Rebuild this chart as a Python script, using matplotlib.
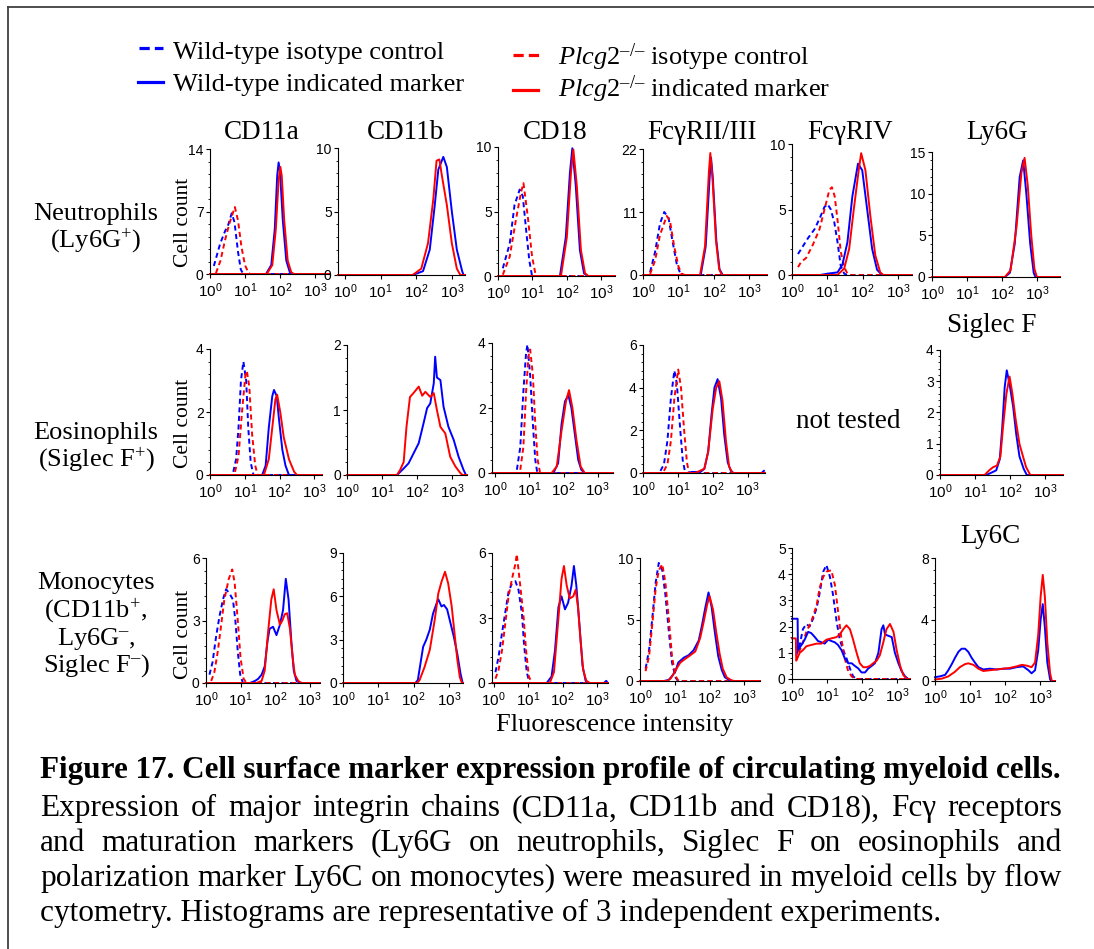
import matplotlib
matplotlib.use('Agg')
import matplotlib.pyplot as plt
import numpy as np
from matplotlib.lines import Line2D
from matplotlib.ticker import AutoMinorLocator, LogLocator, NullFormatter

W, H = 1094, 949
BLUE, RED = '#0000ff', '#ff0000'

# ---- data: (log10 fluorescence, cell count) ----
# neutrophils (Ly6G+)
neu_cd11a_wt_iso = [(0.11, 0.9), (0.29, 3.4), (0.43, 4.8), (0.52, 5.5), (0.62, 6.8), (0.7, 5.8), (0.8, 2.5), (0.88, 0.5), (0.95, 0)]
neu_cd11a_ko_iso = [(0.17, 0.1), (0.3, 1.5), (0.43, 3.8), (0.55, 5.6), (0.71, 7.5), (0.8, 6.0), (0.9, 3.0), (1.0, 1.0), (1.1, 0.1), (1.15, 0)]
neu_cd11a_wt = [(1.6, 0), (1.75, 1.0), (1.85, 5.0), (1.92, 11.0), (1.96, 12.5), (2.0, 11.5), (2.08, 6.0), (2.18, 1.5), (2.28, 0.2), (2.35, 0)]
neu_cd11a_ko = [(1.62, 0), (1.78, 1.0), (1.88, 5.0), (1.96, 10.5), (2.01, 12.0), (2.05, 11.0), (2.12, 6.0), (2.22, 1.5), (2.32, 0.2), (2.4, 0)]

neu_cd11b_wt = [(1.9, 0), (2.19, 0.3), (2.38, 2.0), (2.52, 5.5), (2.62, 8.3), (2.69, 8.8), (2.76, 9.3), (2.86, 8.5), (3.0, 5.0), (3.14, 2.0), (3.29, 0.3), (3.33, 0)]
neu_cd11b_ko = [(1.9, 0), (2.14, 0.5), (2.33, 2.5), (2.48, 6.0), (2.57, 9.0), (2.65, 9.1), (2.71, 8.0), (2.86, 5.5), (3.0, 2.5), (3.14, 0.5), (3.24, 0)]

neu_cd18_wt_iso = [(0.14, 0.6), (0.34, 2.5), (0.48, 5.5), (0.63, 6.7), (0.72, 6.2), (0.82, 3.5), (0.91, 1.2), (0.99, 0)]
neu_cd18_ko_iso = [(0.14, 0.1), (0.34, 1.5), (0.53, 4.5), (0.67, 6.5), (0.74, 7.2), (0.87, 4.5), (0.99, 1.5), (1.1, 0)]
neu_cd18_wt = [(1.8, 0), (1.97, 3.0), (2.09, 8.0), (2.16, 9.9), (2.26, 7.0), (2.38, 2.0), (2.5, 0.2), (2.6, 0)]
neu_cd18_ko = [(1.83, 0), (2.0, 3.0), (2.12, 8.0), (2.19, 9.8), (2.29, 7.0), (2.41, 2.0), (2.53, 0.2), (2.63, 0)]

neu_fc23_wt_iso = [(0.2, 0.5), (0.34, 4.0), (0.48, 9.0), (0.6, 11.0), (0.72, 10.0), (0.83, 6.0), (0.95, 2.0), (1.05, 0.3), (1.14, 0)]
neu_fc23_ko_iso = [(0.2, 0.2), (0.34, 2.5), (0.48, 7.0), (0.67, 10.3), (0.76, 9.5), (0.88, 5.0), (1.0, 1.5), (1.09, 0.2), (1.19, 0)]
neu_fc23_wt = [(1.63, 0), (1.77, 5.0), (1.88, 17.0), (1.92, 20.5), (1.97, 17.0), (2.07, 6.0), (2.16, 1.0), (2.25, 0)]
neu_fc23_ko = [(1.61, 0), (1.75, 5.0), (1.86, 18.0), (1.9, 21.3), (1.96, 17.0), (2.06, 6.0), (2.15, 1.0), (2.23, 0)]

neu_fc4_wt_iso = [(0.17, 1.6), (0.31, 2.2), (0.45, 2.8), (0.64, 3.5), (0.78, 4.3), (0.92, 5.2), (1.01, 5.4), (1.1, 5.0), (1.2, 4.0),
                  (1.29, 2.5), (1.38, 0.7), (1.48, 0.1), (1.57, 0)]
neu_fc4_ko_iso = [(0.17, 0.6), (0.26, 1.0), (0.4, 1.3), (0.59, 2.3), (0.78, 3.5), (0.92, 5.0), (1.06, 6.5), (1.13, 6.7), (1.21, 6.0),
                  (1.29, 4.2), (1.38, 1.8), (1.48, 0.6), (1.57, 0.1), (1.66, 0)]
neu_fc4_wt = [(0.8, 0), (1.0, 0.1), (1.29, 0.2), (1.43, 0.8), (1.57, 2.5), (1.71, 6.0), (1.87, 8.5), (1.99, 8.0), (2.13, 5.0),
              (2.27, 2.0), (2.41, 0.4), (2.55, 0)]
neu_fc4_ko = [(1.29, 0), (1.48, 0.5), (1.62, 2.0), (1.75, 5.0), (1.89, 8.0), (1.96, 9.3), (2.08, 8.0), (2.22, 4.5), (2.36, 1.5),
              (2.5, 0.2), (2.59, 0)]

neu_ly6g_wt = [(2.08, 0), (2.22, 0.5), (2.36, 4.0), (2.5, 12.0), (2.6, 14.0), (2.69, 10.0), (2.8, 4.0), (2.9, 0.5), (2.95, 0)]
neu_ly6g_ko = [(2.08, 0), (2.24, 0.8), (2.41, 6.0), (2.55, 12.5), (2.64, 14.3), (2.73, 11.0), (2.83, 5.0), (2.92, 1.0), (2.99, 0)]

# eosinophils (Siglec F+)
eos_cd11a_wt_iso = [(0.67, 0.1), (0.75, 0.5), (0.82, 1.5), (0.89, 3.0), (0.96, 3.6), (1.04, 3.0), (1.1, 1.5), (1.17, 0.4), (1.25, 0)]
eos_cd11a_ko_iso = [(0.72, 0.1), (0.82, 0.6), (0.92, 2.0), (1.02, 3.2), (1.06, 3.3), (1.13, 2.8), (1.21, 1.3), (1.3, 0.3), (1.37, 0)]
eos_cd11a_wt = [(1.5, 0), (1.6, 0.3), (1.69, 1.5), (1.79, 2.5), (1.84, 2.7), (1.92, 2.5), (1.98, 1.8), (2.08, 0.8), (2.17, 0.3), (2.27, 0)]
eos_cd11a_ko = [(1.55, 0), (1.69, 0.5), (1.79, 1.5), (1.88, 2.4), (1.93, 2.55), (2.02, 2.0), (2.12, 1.2), (2.27, 0.5), (2.42, 0.1), (2.5, 0)]

eos_cd11b_wt = [(1.43, 0), (1.62, 0.1), (1.76, 0.18), (1.9, 0.33), (2.05, 0.49), (2.19, 0.8), (2.29, 1.03), (2.38, 1.1), (2.48, 1.41),
                (2.52, 1.82), (2.57, 1.5), (2.67, 1.46), (2.76, 1.05), (2.9, 0.74), (3.05, 0.54), (3.19, 0.28), (3.33, 0.08), (3.4, 0)]
eos_cd11b_ko = [(1.43, 0), (1.52, 0.08), (1.62, 0.2), (1.7, 0.74), (1.8, 1.2), (1.9, 1.26), (2.05, 1.36), (2.15, 1.22), (2.24, 1.28),
                (2.38, 1.2), (2.48, 1.26), (2.57, 1.0), (2.67, 0.74), (2.81, 0.64), (2.95, 0.28), (3.1, 0.13), (3.24, 0.03), (3.3, 0)]

eos_cd18_wt_iso = [(0.63, 0.1), (0.73, 0.8), (0.82, 2.5), (0.9, 3.7), (0.94, 3.95), (1.02, 3.0), (1.1, 1.5), (1.17, 0.4), (1.23, 0)]
eos_cd18_ko_iso = [(0.73, 0.1), (0.82, 0.8), (0.9, 2.5), (0.97, 3.6), (1.02, 3.8), (1.1, 3.0), (1.17, 1.5), (1.24, 0.4), (1.31, 0)]
eos_cd18_wt = [(1.7, 0), (1.84, 0.3), (1.94, 1.5), (2.04, 2.2), (2.14, 2.4), (2.23, 2.0), (2.33, 1.2), (2.43, 0.4), (2.52, 0.1), (2.62, 0)]
eos_cd18_ko = [(1.65, 0), (1.8, 0.2), (1.94, 1.3), (2.07, 2.2), (2.16, 2.55), (2.26, 2.0), (2.38, 1.0), (2.5, 0.2), (2.62, 0)]

eos_fc23_wt_iso = [(0.5, 0.1), (0.6, 0.4), (0.7, 1.5), (0.8, 3.5), (0.9, 4.8), (0.97, 4.2), (1.07, 2.0), (1.14, 0.6), (1.2, 0.1), (1.26, 0)]
eos_fc23_ko_iso = [(0.6, 0.1), (0.7, 0.4), (0.8, 1.5), (0.9, 3.5), (1.01, 4.85), (1.09, 4.0), (1.18, 2.0), (1.26, 0.5), (1.32, 0)]
eos_fc23_wt = [(1.28, 0), (1.4, 0.05), (1.65, 0.05), (1.76, 0.2), (1.87, 1.0), (1.97, 2.8), (2.05, 4.0), (2.14, 4.4), (2.24, 3.5),
               (2.33, 1.8), (2.43, 0.5), (2.52, 0.1), (2.6, 0), (3.4, 0), (3.47, 0.1)]
eos_fc23_ko = [(1.5, 0), (1.76, 0.2), (1.87, 1.0), (2.0, 3.0), (2.1, 4.0), (2.19, 4.3), (2.28, 3.4), (2.38, 1.5), (2.47, 0.3), (2.57, 0)]

eos_siglecf_wt = [(1.32, 0), (1.51, 0.1), (1.6, 0.15), (1.7, 0.5), (1.77, 1.5), (1.84, 2.8), (1.9, 3.35), (1.98, 2.9), (2.08, 2.2),
                  (2.17, 1.3), (2.26, 0.6), (2.38, 0.2), (2.47, 0)]
eos_siglecf_ko = [(1.27, 0), (1.4, 0.15), (1.51, 0.25), (1.62, 0.3), (1.72, 0.6), (1.79, 1.5), (1.89, 2.6), (1.98, 3.15), (2.06, 2.6),
                  (2.15, 1.8), (2.26, 1.0), (2.36, 0.6), (2.45, 0.25), (2.57, 0)]

# monocytes (CD11b+, Ly6G-, Siglec F-)
mono_cd11a_wt_iso = [(0.1, 0.4), (0.19, 1.0), (0.29, 2.2), (0.39, 3.2), (0.49, 4.0), (0.58, 4.5), (0.68, 4.3), (0.78, 4.0), (0.85, 3.0),
                     (0.92, 1.5), (0.99, 0.4), (1.07, 0)]
mono_cd11a_ko_iso = [(0.15, 0.1), (0.24, 0.5), (0.34, 1.5), (0.44, 2.8), (0.53, 4.0), (0.66, 5.0), (0.76, 5.45), (0.83, 4.8), (0.92, 3.0),
                     (1.0, 1.2), (1.09, 0.2), (1.17, 0)]
mono_cd11a_wt = [(1.27, 0), (1.42, 0.1), (1.51, 0.2), (1.61, 0.4), (1.7, 0.8), (1.78, 2.0), (1.84, 2.6), (1.94, 2.7), (2.04, 2.3),
                 (2.14, 2.8), (2.23, 3.5), (2.31, 5.0), (2.39, 4.0), (2.47, 2.0), (2.54, 0.6), (2.62, 0.1), (2.72, 0)]
mono_cd11a_ko = [(1.46, 0), (1.61, 0.1), (1.7, 0.6), (1.8, 2.5), (1.89, 4.0), (1.96, 4.5), (2.04, 3.5), (2.14, 2.8), (2.21, 3.0),
                 (2.28, 3.3), (2.35, 3.35), (2.43, 2.6), (2.51, 1.2), (2.57, 0.4), (2.67, 0.1), (2.77, 0)]

mono_cd11b_wt = [(2.05, 0), (2.12, 0.2), (2.27, 2.5), (2.36, 3.0), (2.46, 3.7), (2.55, 4.8), (2.65, 5.5), (2.7, 5.8), (2.79, 5.3),
                 (2.86, 5.4), (2.95, 5.1), (3.05, 4.1), (3.14, 3.2), (3.24, 2.0), (3.33, 0.65), (3.39, 0)]
mono_cd11b_ko = [(2.1, 0), (2.17, 0.2), (2.31, 1.1), (2.46, 2.3), (2.6, 4.4), (2.7, 6.2), (2.79, 7.0), (2.89, 7.7), (2.98, 6.9),
                 (3.08, 5.3), (3.17, 3.2), (3.24, 1.6), (3.31, 0.4), (3.37, 0)]

mono_cd18_wt_iso = [(0.05, 0.5), (0.14, 1.2), (0.24, 2.3), (0.34, 3.3), (0.43, 4.2), (0.53, 4.6), (0.63, 4.7), (0.72, 4.3), (0.82, 3.2),
                    (0.88, 1.8), (0.96, 0.5), (1.04, 0)]
mono_cd18_ko_iso = [(0.05, 0.2), (0.14, 0.6), (0.24, 1.5), (0.34, 2.8), (0.43, 4.0), (0.53, 4.8), (0.63, 5.5), (0.67, 5.95), (0.77, 4.5),
                    (0.87, 3.0), (0.94, 1.5), (1.02, 0.3), (1.11, 0)]
mono_cd18_wt = [(1.54, 0), (1.68, 0.3), (1.78, 1.5), (1.88, 3.5), (1.97, 4.0), (2.07, 3.4), (2.16, 3.7), (2.26, 4.5), (2.33, 5.4),
                (2.4, 4.5), (2.5, 2.5), (2.58, 0.8), (2.67, 0.1), (2.77, 0), (3.2, 0), (3.27, 0.1), (3.31, 0)]
mono_cd18_ko = [(1.63, 0), (1.75, 0.5), (1.88, 3.0), (1.97, 4.8), (2.04, 5.4), (2.12, 4.5), (2.21, 3.9), (2.31, 4.0), (2.38, 4.3),
                (2.45, 3.5), (2.52, 2.0), (2.6, 0.6), (2.69, 0.1), (2.79, 0)]

mono_fc23_wt_iso = [(0.16, 1.0), (0.26, 2.5), (0.35, 5.0), (0.45, 8.0), (0.54, 9.6), (0.64, 9.0), (0.73, 7.0), (0.83, 4.0), (0.92, 1.5),
                    (1.02, 0.3), (1.09, 0)]
mono_fc23_ko_iso = [(0.16, 0.8), (0.26, 2.0), (0.35, 4.5), (0.45, 7.5), (0.54, 9.0), (0.64, 9.5), (0.73, 8.0), (0.83, 5.0), (0.92, 2.0),
                    (1.02, 0.4), (1.11, 0)]
mono_fc23_wt = [(0.69, 0), (0.83, 0.1), (0.92, 0.4), (1.02, 0.8), (1.1, 1.5), (1.26, 1.9), (1.4, 2.1), (1.54, 2.5), (1.69, 3.3),
                (1.78, 4.5), (1.88, 6.0), (1.97, 7.2), (2.06, 6.0), (2.15, 4.0), (2.25, 2.0), (2.35, 0.9), (2.44, 0.3), (2.58, 0.05), (2.68, 0)]
mono_fc23_ko = [(0.78, 0), (0.88, 0.2), (0.97, 0.6), (1.07, 1.1), (1.16, 1.5), (1.3, 1.8), (1.45, 2.1), (1.59, 2.4), (1.73, 3.5),
                (1.83, 4.8), (1.93, 6.2), (2.0, 6.9), (2.1, 5.8), (2.19, 4.0), (2.29, 2.2), (2.38, 1.0), (2.49, 0.3), (2.63, 0.05), (2.72, 0)]

mono_fc4_wt_iso = [(0.12, 0.9), (0.22, 1.3), (0.31, 1.9), (0.41, 2.1), (0.5, 2.0), (0.6, 2.3), (0.7, 2.7), (0.79, 3.3), (0.89, 4.1),
                   (0.98, 4.35), (1.08, 3.9), (1.17, 3.2), (1.27, 2.2), (1.36, 1.5), (1.46, 1.1), (1.55, 0.8), (1.65, 0.4), (1.74, 0.1), (1.84, 0)]
mono_fc4_ko_iso = [(0.12, 0.7), (0.22, 1.1), (0.31, 1.4), (0.41, 1.8), (0.55, 2.2), (0.7, 2.8), (0.79, 3.5), (0.89, 3.9), (0.98, 4.1),
                   (1.12, 4.15), (1.22, 3.6), (1.31, 2.6), (1.41, 1.5), (1.5, 0.8), (1.6, 0.3), (1.7, 0.1), (1.79, 0)]
mono_fc4_wt = [(0.0, 2.3), (0.16, 2.3), (0.17, 1.1), (0.27, 1.3), (0.36, 1.5), (0.46, 1.8), (0.55, 1.75), (0.65, 1.6), (0.74, 1.45),
               (0.84, 1.4), (0.93, 1.35), (1.03, 1.5), (1.12, 1.45), (1.22, 1.4), (1.31, 1.3), (1.41, 1.1), (1.5, 0.8), (1.6, 0.6),
               (1.7, 0.6), (1.79, 0.5), (1.89, 0.4), (1.98, 0.25), (2.08, 0.25), (2.17, 0.4), (2.27, 0.5), (2.36, 0.6), (2.46, 1.0),
               (2.55, 1.9), (2.6, 2.05), (2.65, 1.7), (2.74, 1.65), (2.84, 1.6), (2.93, 1.0), (3.03, 0.6), (3.12, 0.3), (3.22, 0.1), (3.31, 0)]
mono_fc4_ko = [(0.0, 1.55), (0.11, 1.55), (0.12, 0.7), (0.22, 1.0), (0.31, 1.1), (0.41, 1.25), (0.55, 1.3), (0.7, 1.35), (0.84, 1.35),
               (0.98, 1.5), (1.12, 1.55), (1.27, 1.6), (1.36, 1.7), (1.46, 1.9), (1.55, 2.05), (1.65, 1.9), (1.74, 1.5), (1.84, 1.0),
               (1.93, 0.6), (2.03, 0.45), (2.12, 0.45), (2.22, 0.5), (2.31, 0.6), (2.41, 0.7), (2.5, 0.9), (2.6, 1.4), (2.69, 1.9),
               (2.79, 2.1), (2.89, 1.8), (2.98, 1.1), (3.08, 0.5), (3.17, 0.15), (3.27, 0)]

mono_ly6c_wt = [(0.0, 0.25), (0.14, 0.3), (0.29, 0.4), (0.38, 0.7), (0.48, 1.1), (0.57, 1.5), (0.67, 1.9), (0.76, 2.1), (0.86, 2.1),
                (0.95, 1.9), (1.05, 1.5), (1.14, 1.2), (1.24, 0.9), (1.38, 0.75), (1.57, 0.8), (1.76, 0.75), (1.95, 0.8), (2.14, 0.8),
                (2.33, 0.9), (2.52, 0.95), (2.67, 0.7), (2.76, 0.5), (2.86, 0.7), (2.95, 2.0), (3.02, 4.0), (3.08, 5.0), (3.14, 3.5),
                (3.21, 1.2), (3.29, 0.1), (3.33, 0)]
mono_ly6c_ko = [(0.0, 0.1), (0.19, 0.15), (0.38, 0.3), (0.57, 0.6), (0.71, 0.9), (0.86, 1.1), (0.95, 1.15), (1.1, 1.05), (1.24, 0.8),
                (1.38, 0.65), (1.57, 0.7), (1.76, 0.75), (1.95, 0.8), (2.14, 0.85), (2.33, 0.95), (2.48, 1.05), (2.62, 1.0), (2.76, 0.9),
                (2.86, 1.2), (2.95, 3.0), (3.02, 5.5), (3.08, 6.9), (3.14, 5.5), (3.21, 2.5), (3.29, 0.5), (3.34, 0)]

row_labels = [['Neutrophils', '(Ly6G$^{+}$)'],
              ['Eosinophils', '(Siglec F$^{+}$)'],
              ['Monocytes', '(CD11b$^{+}$,', 'Ly6G$^{\u2013}$,', 'Siglec F$^{\u2013}$)']]
legend_labels = ['Wild-type isotype control', 'Wild-type indicated marker',
                 '$\\mathit{Plcg2}^{\u2013/\u2013}$ isotype control', '$\\mathit{Plcg2}^{\u2013/\u2013}$ indicated marker']
caption_title = 'Figure 17. Cell surface marker expression profile of circulating myeloid cells.'
caption_body = ['Expression of major integrin chains (CD11a, CD11b and CD18), Fc\u03b3 receptors',
                'and maturation markers (Ly6G on neutrophils, Siglec F on eosinophils and',
                'polarization marker Ly6C on monocytes) were measured in myeloid cells by flow',
                'cytometry. Histograms are representative of 3 independent experiments.']

# ---- styling ----
plt.rcParams.update({
    'font.family': ['Liberation Serif', 'DejaVu Serif'],
    'mathtext.fontset': 'custom',
    'mathtext.rm': 'Liberation Serif',
    'mathtext.it': 'Liberation Serif:italic',
    'mathtext.sf': 'Liberation Sans',
    'axes.linewidth': 0.8,
})
STYLE = {
    'wt_iso': dict(color=BLUE, lw=1.4, ls=(0, (2.6, 1.8))),
    'ko_iso': dict(color=RED, lw=1.4, ls=(0, (2.6, 1.8))),
    'wt': dict(color=BLUE, lw=1.4),
    'ko': dict(color=RED, lw=1.4),
}

fig = plt.figure(figsize=(W / 100, H / 100), dpi=100)


def fx(x):
    return x / W


def fy(y):
    return 1 - y / H


def text(x, y, s, **kw):
    return fig.text(fx(x), fy(y), s, **kw)


def panel(box, xlim, ymax, yticks, curves, title=None):
    x0, x1, yt, yb = box
    ax = fig.add_axes([fx(x0), fy(yb), (x1 - x0) / W, (yb - yt) / H])
    ax.set_xscale('log')
    for key, pts in curves:
        d = [p[0] for p in pts]
        c = [p[1] for p in pts]
        if c[0] == 0:
            d, c = [xlim[0]] + d, [0] + c
        if c[-1] == 0:
            d, c = d + [xlim[1]], c + [0]
        ax.plot(10 ** np.array(d), c, clip_on=False, **STYLE[key])
    ax.set_xlim(10 ** xlim[0], 10 ** xlim[1])
    ax.set_ylim(0, ymax)
    ax.set_xticks([1, 10, 100, 1000])
    ax.set_xticklabels([r'$\mathsf{10^{%d}}$' % i for i in range(4)])
    ax.xaxis.set_minor_locator(LogLocator(base=10, subs=np.arange(2, 10)))
    ax.xaxis.set_minor_formatter(NullFormatter())
    ax.set_yticks(yticks)
    ax.yaxis.set_minor_locator(AutoMinorLocator(5))
    ax.tick_params(which='major', length=3, width=0.8, pad=1.5)
    ax.tick_params(axis='x', labelsize=11, pad=2)
    ax.tick_params(axis='y', labelsize=10, labelfontfamily='Liberation Sans')
    ax.tick_params(which='minor', length=1.6, width=0.6)
    ax.spines[['top', 'right']].set_visible(False)
    ax.patch.set_alpha(0)
    if title:
        s, tx, ty = title
        text(tx, ty, s, fontsize=19.5, ha='center', va='baseline')
    return ax


def four(a, b, c, d):
    return [('wt_iso', a), ('ko_iso', b), ('wt', c), ('ko', d)]


def two(c, d):
    return [('wt', c), ('ko', d)]


# row 1: neutrophils
panel((210, 329, 149, 274), (0, 3.4), 14, [0, 7, 14],
      four(neu_cd11a_wt_iso, neu_cd11a_ko_iso, neu_cd11a_wt, neu_cd11a_ko), ('CD11a', 262, 139))
panel((338, 465, 148, 275), (-0.2, 3.37), 10, [0, 5, 10],
      two(neu_cd11b_wt, neu_cd11b_ko), ('CD11b', 405, 139))
panel((498, 615, 147, 276), (0, 3.4), 10, [0, 5, 10],
      four(neu_cd18_wt_iso, neu_cd18_ko_iso, neu_cd18_wt, neu_cd18_ko), ('CD18', 555, 139))
panel((643, 767, 149, 275), (0, 3.5), 22, [0, 11, 22],
      four(neu_fc23_wt_iso, neu_fc23_ko_iso, neu_fc23_wt, neu_fc23_ko), ('Fc\u03b3RII/III', 702, 139))
panel((792, 912, 144, 275), (0, 3.4), 10, [0, 5, 10],
      four(neu_fc4_wt_iso, neu_fc4_ko_iso, neu_fc4_wt, neu_fc4_ko), ('Fc\u03b3RIV', 850, 139))
panel((932, 1060, 152, 277), (0, 3.65), 15, [0, 5, 10, 15],
      two(neu_ly6g_wt, neu_ly6g_ko), ('Ly6G', 997, 139))

# row 2: eosinophils
panel((210, 322, 349, 475), (0, 3.22), 4, [0, 2, 4],
      four(eos_cd11a_wt_iso, eos_cd11a_ko_iso, eos_cd11a_wt, eos_cd11a_ko))
panel((347, 467, 345, 475), (0, 3.43), 2, [0, 1, 2],
      two(eos_cd11b_wt, eos_cd11b_ko))
panel((492, 613, 343, 473), (-0.1, 3.45), 4, [0, 2, 4],
      four(eos_cd18_wt_iso, eos_cd18_ko_iso, eos_cd18_wt, eos_cd18_ko))
panel((643, 765, 345, 473), (0, 3.5), 6, [0, 2, 4, 6],
      four(eos_fc23_wt_iso, eos_fc23_ko_iso, eos_fc23_wt, eos_fc23_ko))
panel((940, 1063, 350, 475), (0, 3.5), 4, [0, 1, 2, 3, 4],
      two(eos_siglecf_wt, eos_siglecf_ko), ('Siglec F', 992, 332))
text(848, 428, 'not tested', fontsize=19.5, ha='center', va='baseline')

# row 3: monocytes
panel((206, 320, 558, 683), (0, 3.3), 6, [0, 3, 6],
      four(mono_cd11a_wt_iso, mono_cd11a_ko_iso, mono_cd11a_wt, mono_cd11a_ko))
panel((343, 463, 553, 683), (0, 3.4), 9, [0, 3, 6, 9],
      two(mono_cd11b_wt, mono_cd11b_ko))
panel((492, 608, 553, 683), (-0.05, 3.32), 6, [0, 3, 6],
      four(mono_cd18_wt_iso, mono_cd18_ko_iso, mono_cd18_wt, mono_cd18_ko))
panel((640, 760, 558, 681), (0, 3.45), 10, [0, 5, 10],
      four(mono_fc23_wt_iso, mono_fc23_ko_iso, mono_fc23_wt, mono_fc23_ko))
panel((792, 910, 548, 679), (0, 3.36), 5, [0, 1, 2, 3, 4, 5],
      four(mono_fc4_wt_iso, mono_fc4_ko_iso, mono_fc4_wt, mono_fc4_ko))
panel((935, 1055, 558, 681), (0, 3.43), 8, [0, 4, 8],
      two(mono_ly6c_wt, mono_ly6c_ko), ('Ly6C', 990, 543))

# row labels and axis labels
for lines, baselines in zip(row_labels, [[220, 247], [439, 466], [589, 617, 645, 672]]):
    for s, b in zip(lines, baselines):
        text(96, b, s, fontsize=19, ha='center', va='baseline')
for yc in (222, 423, 634):
    text(183, yc, 'Cell count', fontsize=15.5, rotation=90, ha='center', va='center')
text(615, 731, 'Fluorescence intensity', fontsize=19, ha='center', va='baseline')

# legend
handles = [(139, 163, 48, 'wt_iso'), (138, 163, 82, 'wt'), (513, 539, 55, 'ko_iso'), (513, 538, 90, 'ko')]
label_pos = [(173, 59), (173, 91), (558, 65), (558, 97)]
for (hx0, hx1, hy, key), (lx, ly), lab in zip(handles, label_pos, legend_labels):
    st = dict(STYLE[key])
    st['lw'] = 2.3
    if 'ls' in st:
        st['ls'] = (0, (3.2, 1.6))
    fig.add_artist(Line2D([fx(hx0), fx(hx1)], [fy(hy), fy(hy)], **st))
    text(lx, ly, lab, fontsize=19, ha='left', va='baseline')

# frame (left and top edges)
fig.add_artist(Line2D([fx(8), fx(8)], [0, fy(7)], color='#404040', lw=1.3))
fig.add_artist(Line2D([fx(8), 1], [fy(7), fy(7)], color='#404040', lw=1.3))

# caption, sizes fitted to the measured line widths and body justified
renderer = fig.canvas.get_renderer()
X0, X1 = 40, 1062


def width_px(s, size, weight='normal'):
    t = fig.text(0, 0, s, fontsize=size, fontweight=weight)
    w = t.get_window_extent(renderer).width
    t.remove()
    return w


title_size = 20 * (X1 - X0) / width_px(caption_title, 20, 'bold')
text(X0, 778, caption_title, fontsize=title_size, fontweight='bold', ha='left', va='baseline')

body_size = 20 * 900 / width_px(caption_body[-1], 20)
for i, (line, base) in enumerate(zip(caption_body, [816, 851, 886, 921])):
    if i == len(caption_body) - 1:
        text(X0, base, line, fontsize=body_size, ha='left', va='baseline')
        continue
    words = line.split(' ')
    widths = [width_px(w, body_size) for w in words]
    gap = (X1 - X0 - sum(widths)) / (len(words) - 1)
    x = X0
    for w, ww in zip(words, widths):
        text(x, base, w, fontsize=body_size, ha='left', va='baseline')
        x += ww + gap

fig.savefig('out.png', dpi=100)
